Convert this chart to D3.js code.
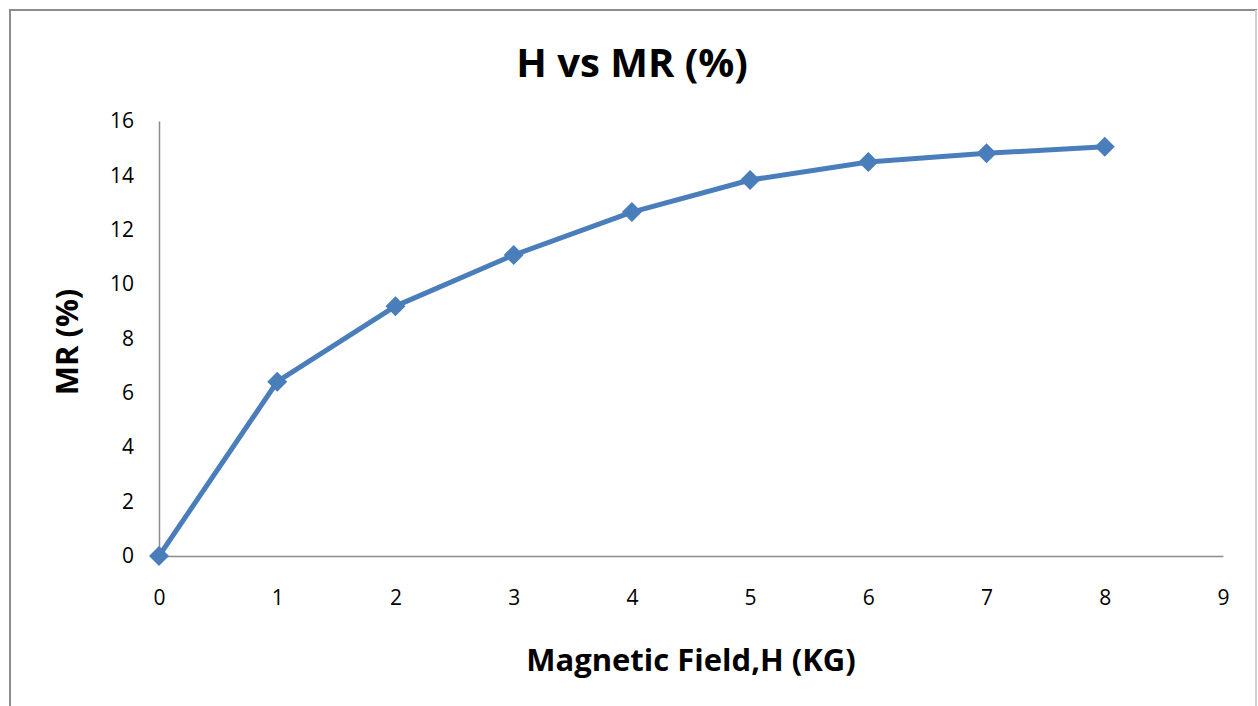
<!DOCTYPE html>
<html><head><meta charset="utf-8">
<script src="https://cdn.jsdelivr.net/npm/d3@7"></script>
<style>body{margin:0;background:#fff}svg{display:block;font-family:"Open Sans","Noto Sans",sans-serif}</style>
</head><body><svg id="c" width="1258" height="706"></svg>
<script>
const fieldH = [0,1,2,3,4,5,6,7,8];
const mrValues = [0,6.41,9.19,11.07,12.65,13.83,14.49,14.81,15.05];
const xTicks = [0,1,2,3,4,5,6,7,8,9];
const yTicks = [0,2,4,6,8,10,12,14,16];
const title = "H vs MR (%)";
const xTitle = "Magnetic Field,H (KG)";
const yTitle = "MR (%)";

const svg = d3.select("#c");
svg.append("rect").attr("x",10).attr("y",10).attr("width",1246).attr("height",700)
  .attr("fill","#fff").attr("stroke","#8c8c8c").attr("stroke-width",2);
svg.append("line").attr("x1",1256).attr("x2",1256).attr("y1",10).attr("y2",706).attr("stroke","#d0d0d0").attr("stroke-width",2);

const x = d3.scaleLinear().domain([0,9]).range([159,1223]);
const y = d3.scaleLinear().domain([0,16]).range([556,121]);

const xAxis = svg.append("g").attr("transform","translate(0,556)")
  .call(d3.axisBottom(x).tickValues(xTicks).tickSize(0).tickPadding(34).tickFormat(d3.format("d")));
const yAxis = svg.append("g").attr("transform","translate(159,0)")
  .call(d3.axisLeft(y).tickValues(yTicks).tickSize(0).tickPadding(25).tickFormat(d3.format("d")));
[xAxis,yAxis].forEach(a=>{
  a.select(".domain").attr("stroke","#8c8c8c").attr("stroke-width",1.5);
  a.selectAll("text").attr("font-size",21).attr("fill","#000").attr("font-family","'Open Sans',sans-serif");
});

const line = d3.line().x((d,i)=>x(fieldH[i])).y(d=>y(d));
svg.append("path").datum(mrValues).attr("d",line).attr("fill","none")
  .attr("stroke","#4a7ebb").attr("stroke-width",5).attr("stroke-linejoin","round");
svg.selectAll(".m").data(mrValues).join("path").attr("class","m")
  .attr("d",d3.symbol(d3.symbolSquare,200)())
  .attr("transform",(d,i)=>`translate(${x(fieldH[i])},${y(d)}) rotate(45)`)
  .attr("fill","#4a7ebb");

svg.append("text").attr("x",632).attr("y",77).attr("text-anchor","middle")
  .attr("font-size",40).attr("font-weight","bold").text(title);
svg.append("text").attr("x",691).attr("y",671).attr("text-anchor","middle")
  .attr("font-size",31).attr("font-weight","bold").text(xTitle);
svg.append("text").attr("transform","translate(78,342) rotate(-90)").attr("text-anchor","middle")
  .attr("font-size",31).attr("font-weight","bold").text(yTitle);
</script></body></html>
